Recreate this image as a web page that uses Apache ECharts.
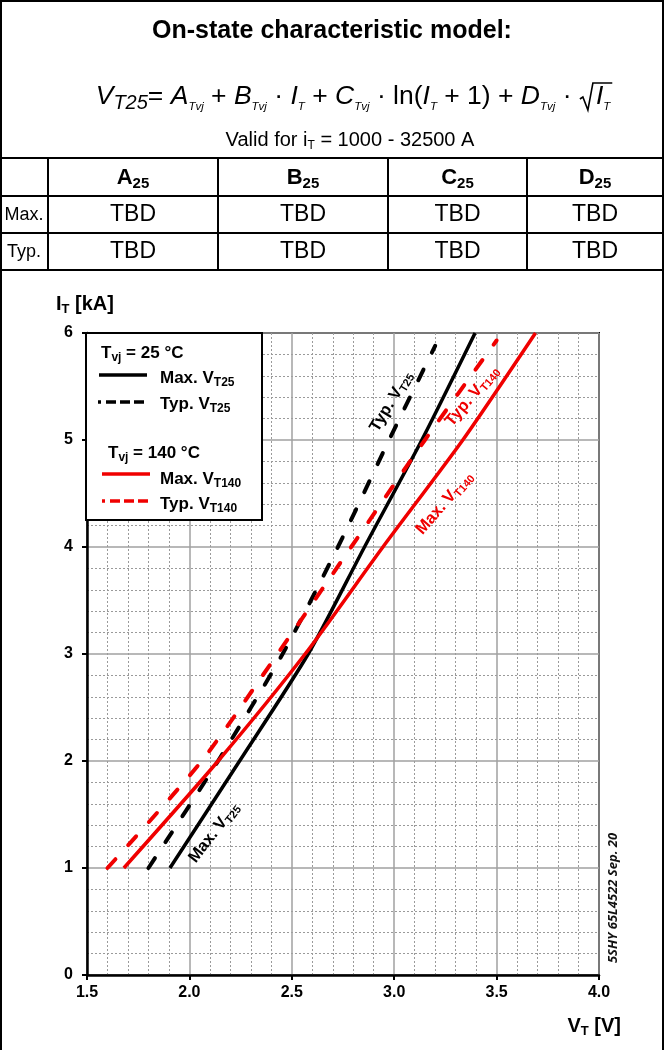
<!DOCTYPE html>
<html><head><meta charset="utf-8">
<script src="https://cdn.jsdelivr.net/npm/echarts@6/dist/echarts.min.js"></script>
<style>html,body{margin:0;padding:0;background:#fff}#c{width:664px;height:1050px}</style>
</head><body><div id="c"></div>
<script>
// ---- data ----
const currentMax = [1, 2, 3, 4, 5, 6];              // kA
const vMax25 = [1.905, 2.245, 2.58, 2.855, 3.135, 3.395];  // V
const vMax140 = [1.68, 2.14, 2.565, 2.945, 3.335, 3.69];
const currentTyp25 = [1, 2, 3, 4, 5, 5.88];
const vTyp25 = [1.80, 2.14, 2.455, 2.725, 2.975, 3.20];
const currentTyp140 = [1, 2, 3, 4, 5, 5.93];
const vTyp140 = [1.60, 2.06, 2.43, 2.79, 3.15, 3.50];
const tableCols = ['A', 'B', 'C', 'D'];
const tableRows = ['Max.', 'Typ.'];
const tableValues = [['TBD', 'TBD', 'TBD', 'TBD'], ['TBD', 'TBD', 'TBD', 'TBD']];
const curveLabels = [
  {main: 'Max. V', sub: 'T25', color: '#000', at: [2.12, 1.33], angle: 52},
  {main: 'Typ. V', sub: 'T25', color: '#000', at: [2.985, 5.36], angle: 59},
  {main: 'Typ. V', sub: 'T140', color: 'red', at: [3.38, 5.41], angle: 50},
  {main: 'Max. V', sub: 'T140', color: 'red', at: [3.245, 4.41], angle: 49}
];

const F = "'Liberation Sans', Arial, sans-serif";
const RED = '#f00000';
const pair = (vs, is) => vs.map((v, k) => [v, is[k]]);
const chart = echarts.init(document.getElementById('c'), null, {renderer: 'canvas', width: 664, height: 1050});

function lineSeries(name, data, color, dashed) {
  return {
    name, type: 'line', data, showSymbol: false, symbol: 'none', smooth: 0.25, silent: true,
    lineStyle: dashed ? {color, width: 4, type: [12, 19], cap: 'round'} : {color, width: 3.5, cap: 'butt'},
    z: 3
  };
}

chart.setOption({
  animation: false,
  backgroundColor: '#fff',
  grid: {left: 87, right: 65, top: 333, bottom: 75, show: true, borderColor: '#000', borderWidth: 2},
  xAxis: {
    type: 'value', min: 1.5, max: 4.0, interval: 0.5,
    axisLine: {show: true, onZero: false, lineStyle: {color: '#000', width: 2.5}},
    axisTick: {show: true, length: 5, lineStyle: {color: '#000', width: 2}},
    axisLabel: {color: '#000', fontWeight: 'bold', fontSize: 16, fontFamily: F, margin: 10, formatter: v => v.toFixed(1)},
    splitLine: {show: true, lineStyle: {color: '#a0a0a0', width: 1.5}},
    minorTick: {show: false, splitNumber: 5},
    minorSplitLine: {show: true, lineStyle: {color: '#9a9a9a', width: 1, type: [2, 2]}}
  },
  yAxis: {
    type: 'value', min: 0, max: 6, interval: 1,
    axisLine: {show: true, onZero: false, lineStyle: {color: '#000', width: 2.5}},
    axisTick: {show: true, length: 5, lineStyle: {color: '#000', width: 2}},
    axisLabel: {color: '#000', fontWeight: 'bold', fontSize: 16, fontFamily: F, margin: 14},
    splitLine: {show: true, lineStyle: {color: '#a0a0a0', width: 1.5}},
    minorTick: {show: false, splitNumber: 5},
    minorSplitLine: {show: true, lineStyle: {color: '#9a9a9a', width: 1, type: [2, 2]}}
  },
  series: [
    lineSeries('Max. VT25', pair(vMax25, currentMax), '#000', false),
    lineSeries('Typ. VT25', pair(vTyp25, currentTyp25), '#000', true),
    lineSeries('Max. VT140', pair(vMax140, currentMax), RED, false),
    lineSeries('Typ. VT140', pair(vTyp140, currentTyp140), RED, true)
  ]
});

// ---------- graphics: frame, header, table, legend, labels ----------
const G = [];
const Z = 100;
function ln(x1, y1, x2, y2, w, color, dash) {
  G.push({type: 'line', z: Z, silent: true, shape: {x1, y1, x2, y2},
    style: {stroke: color || '#000', lineWidth: w || 2, lineDash: dash || null}});
}
function tx(x, y, text, rich, opts) {
  opts = opts || {};
  G.push({type: 'text', z: Z + 1, silent: true, x, y, rotation: opts.rotation || 0,
    style: Object.assign({text, rich, align: opts.align || 'center', verticalAlign: 'middle',
      fill: opts.fill || '#000', fontFamily: F}, opts.style || {})});
}

// outer frame
ln(1, 0, 1, 1050, 2);
ln(663, 0, 663, 1050, 2);
ln(0, 1, 664, 1, 2);

// title
tx(332, 31, 'On-state characteristic model:', null, {style: {fontSize: 25, fontWeight: 'bold'}});

// formula with measured layout (for the radical sign)
const ctx = document.createElement('canvas').getContext('2d');
const FS = 26.5;
const fStyles = {
  it: {fontFamily: F, fontStyle: 'italic', fontSize: FS, lineHeight: 32},
  n: {fontFamily: F, fontSize: FS, lineHeight: 32},
  sub: {fontFamily: F, fontStyle: 'italic', fontSize: 11.5, lineHeight: 12, verticalAlign: 'bottom'},
  v25: {fontFamily: F, fontStyle: 'italic', fontSize: 20, lineHeight: 27, verticalAlign: 'bottom'},
  rad: {fontFamily: F, fontSize: FS, lineHeight: 32, width: 17}
};
const tokens = [['it', 'V'], ['v25', 'T25'], ['n', '= '], ['it', 'A'], ['sub', 'Tvj'], ['n', ' + '], ['it', 'B'], ['sub', 'Tvj'],
  ['n', ' · '], ['it', 'I'], ['sub', 'T'], ['n', ' + '], ['it', 'C'], ['sub', 'Tvj'], ['n', ' · ln('], ['it', 'I'], ['sub', 'T'],
  ['n', ' + 1) + '], ['it', 'D'], ['sub', 'Tvj'], ['n', ' · '], ['rad', ' '], ['it', 'I'], ['sub', 'T']];
function tokW(k, t) {
  const s = fStyles[k];
  if (s.width) return s.width;
  ctx.font = (s.fontStyle || 'normal') + ' normal ' + s.fontSize + 'px ' + F;
  return ctx.measureText(t).width;
}
let totalW = 0; const starts = [];
tokens.forEach(([k, t]) => { starts.push(totalW); totalW += tokW(k, t); });
const fx0 = 353 - totalW / 2, fy = 97;
tx(fx0, fy, tokens.map(([k, t]) => '{' + k + '|' + t + '}').join(''), fStyles, {align: 'left'});
const ri = tokens.findIndex(t => t[0] === 'rad');
const xr = fx0 + starts[ri], xe = fx0 + totalW;
const yb = fy + 10, yt = fy - 14;
G.push({type: 'polyline', z: Z, silent: true,
  shape: {points: [[xr + 1, yb - 8], [xr + 4, yb - 10], [xr + 9, yb + 3], [xr + 14, yt], [xe + 2, yt]]},
  style: {stroke: '#000', lineWidth: 1.6, fill: null}});

// valid range
tx(350, 140, '{n|Valid for i}{s|T}{n| = 1000 - 32500 A}', {
  n: {fontFamily: F, fontSize: 20, lineHeight: 23},
  s: {fontFamily: F, fontSize: 12, lineHeight: 12, verticalAlign: 'bottom'}
});

// table
const rowLines = [158, 196, 233, 270];
const colLines = [48, 218, 388, 527];
rowLines.forEach(y => ln(0, y, 664, y, 2));
colLines.forEach(x => ln(x, rowLines[0], x, rowLines[3], 2));
const colCenters = [133, 303, 457.5, 595];
const rowCenters = [215, 252];
tableCols.forEach((c, i) => tx(colCenters[i], 178, '{b|' + c + '}{s|25}', {
  b: {fontFamily: F, fontWeight: 'bold', fontSize: 22, lineHeight: 26},
  s: {fontFamily: F, fontWeight: 'bold', fontSize: 15, lineHeight: 14, verticalAlign: 'bottom'}
}));
tableRows.forEach((r, j) => {
  tx(24, rowCenters[j], r, null, {style: {fontSize: 18}});
  tableValues[j].forEach((v, i) => tx(colCenters[i], rowCenters[j], v, null, {style: {fontSize: 23}}));
});

// axis names
const axRich = {
  b: {fontFamily: F, fontWeight: 'bold', fontSize: 20, lineHeight: 24},
  s: {fontFamily: F, fontWeight: 'bold', fontSize: 13, lineHeight: 13, verticalAlign: 'bottom'}
};
tx(56, 304, '{b|I}{s|T}{b| [kA]}', axRich, {align: 'left'});
tx(621, 1026, '{b|V}{s|T}{b| [V]}', axRich, {align: 'right'});

// date code
tx(613, 898, '5SHY 65L4522 Sep. 20', null, {rotation: Math.PI / 2,
  style: {fontFamily: "'Open Sans', sans-serif", fontStyle: 'italic', fontWeight: 'bold', fontSize: 13, fill: '#111'}});

// legend box
G.push({type: 'rect', z: Z, silent: true, shape: {x: 86, y: 333, width: 176, height: 187},
  style: {fill: '#fff', stroke: '#000', lineWidth: 2}});
const lgRich = {
  b: {fontFamily: F, fontWeight: 'bold', fontSize: 17, lineHeight: 22},
  s: {fontFamily: F, fontWeight: 'bold', fontSize: 12, lineHeight: 12, verticalAlign: 'bottom'}
};
tx(101, 353, '{b|T}{s|vj}{b| = 25 °C}', lgRich, {align: 'left'});
ln(99, 375, 147, 375, 3.5, '#000');
tx(160, 378, '{b|Max. V}{s|T25}', lgRich, {align: 'left'});
ln(98, 402, 147, 402, 3.5, '#000', [3, 5, 10, 4, 10, 4, 10, 4]);
tx(160, 404, '{b|Typ. V}{s|T25}', lgRich, {align: 'left'});
tx(108, 453, '{b|T}{s|vj}{b| = 140 °C}', lgRich, {align: 'left'});
ln(102, 474, 150, 474, 3.5, RED);
tx(160, 479, '{b|Max. V}{s|T140}', lgRich, {align: 'left'});
ln(102, 501, 150, 501, 3.5, RED, [3, 5, 10, 4, 10, 4, 10, 4]);
tx(160, 504, '{b|Typ. V}{s|T140}', lgRich, {align: 'left'});

// curve labels placed at data coordinates
curveLabels.forEach(l => {
  const p = chart.convertToPixel({gridIndex: 0}, l.at);
  const c = l.color === 'red' ? RED : '#000';
  tx(p[0], p[1], '{n|' + l.main + '}{s|' + l.sub + '}', {
    n: {fontFamily: F, fontWeight: 'bold', fontSize: 16.5, lineHeight: 20, fill: c},
    s: {fontFamily: F, fontWeight: 'bold', fontSize: 11, lineHeight: 11, verticalAlign: 'bottom', fill: c}
  }, {rotation: l.angle * Math.PI / 180, fill: c});
});

chart.setOption({graphic: {elements: G}});
</script></body></html>
